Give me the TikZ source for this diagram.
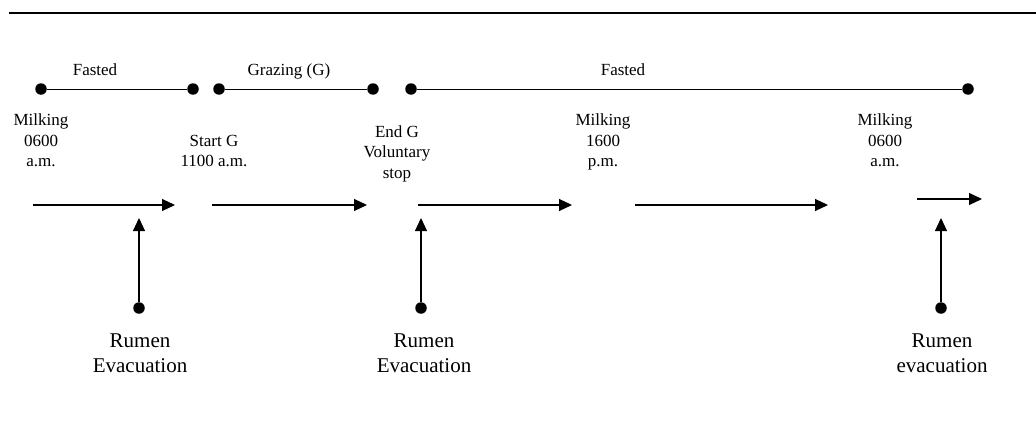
\documentclass[tikz,border=0pt]{standalone}
\usepackage{fontspec}
\setmainfont{Liberation Serif}
\usetikzlibrary{arrows.meta}
\begin{document}
\begin{tikzpicture}[x=1pt,y=-1pt,
  dot/.style={circle,fill=black,inner sep=0pt,minimum size=11.5pt},
  lbl/.style={anchor=base,align=center,inner sep=0pt,font=\fontsize{17}{20.5}\selectfont},
  rlbl/.style={anchor=base,align=center,inner sep=0pt,font=\fontsize{21}{25}\selectfont},
  tl/.style={line width=0.9pt},
  harr/.style={line width=1.1pt,-{Triangle[length=13pt,width=12pt]}},
  varr/.style={line width=1.1pt,-{Triangle[length=13pt,width=12pt]}}]
\useasboundingbox (0,0) rectangle (1036,444);
% top rule
\coordinate (r0) at (9,13);
\coordinate (r1) at (1036,13);
\draw[line width=1.4pt] (r0) -- (r1);
% timeline dots
\node[dot] (d1) at (41,89) {};
\node[dot] (d2) at (193,89) {};
\node[dot] (d3) at (219,89) {};
\node[dot] (d4) at (373,89) {};
\node[dot] (d5) at (411,89) {};
\node[dot] (d6) at (968,89) {};
\draw[tl] (d1) -- (d2);
\draw[tl] (d3) -- (d4);
\draw[tl] (d5) -- (d6);
% period labels
\node[lbl] (f1) at (95,75) {Fasted};
\node[lbl] (g1) at (289,75) {Grazing (G)};
\node[lbl] (f2) at (623,75) {Fasted};
% event labels (anchor = baseline of last line)
\node[lbl] (m1) at (41,166.5) {Milking\\0600\\a.m.};
\node[lbl] (sg) at (214,166.5) {Start G\\1100 a.m.};
\node[lbl] (eg) at (397,178) {End G\\Voluntary\\stop};
\node[lbl] (m2) at (603,166.5) {Milking\\1600\\p.m.};
\node[lbl] (m3) at (885,166.5) {Milking\\0600\\a.m.};
% horizontal arrows
\coordinate (a1s) at (33,205);  \coordinate (a1e) at (175,205);
\coordinate (a2s) at (212,205); \coordinate (a2e) at (367,205);
\coordinate (a3s) at (418,205); \coordinate (a3e) at (572,205);
\coordinate (a4s) at (635,205); \coordinate (a4e) at (828,205);
\coordinate (a5s) at (917,199); \coordinate (a5e) at (982,199);
\draw[harr] (a1s) -- (a1e);
\draw[harr] (a2s) -- (a2e);
\draw[harr] (a3s) -- (a3e);
\draw[harr] (a4s) -- (a4e);
\draw[harr] (a5s) -- (a5e);
% rumen evacuation
\node[dot] (e1) at (139,308) {};
\node[dot] (e2) at (421,308) {};
\node[dot] (e3) at (941,308) {};
\coordinate (t1) at (139,218);
\coordinate (t2) at (421,218);
\coordinate (t3) at (941,218);
\draw[varr] (e1) -- (t1);
\draw[varr] (e2) -- (t2);
\draw[varr] (e3) -- (t3);
\node[rlbl] (re1) at (140,372) {Rumen\\Evacuation};
\node[rlbl] (re2) at (424,372) {Rumen\\Evacuation};
\node[rlbl] (re3) at (942,372) {Rumen\\evacuation};
\end{tikzpicture}
\end{document}
